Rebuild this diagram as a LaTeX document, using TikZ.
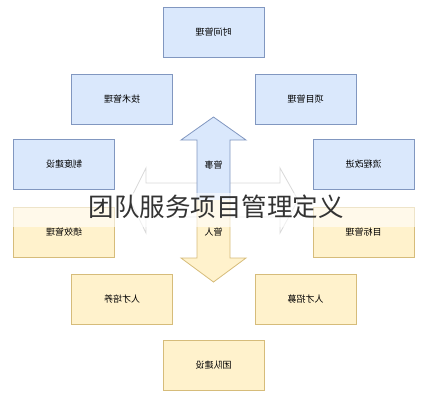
\documentclass[tikz,border=0pt]{standalone}
\usepackage{fontspec}
\setmainfont{Noto Sans CJK SC}
\usetikzlibrary{positioning}
\definecolor{blueline}{HTML}{8197C0}
\definecolor{bluefill}{HTML}{DAE8FC}
\definecolor{yellowline}{HTML}{D6BC7A}
\definecolor{yellowfill}{HTML}{FFF2CC}

\begin{document}
\begin{tikzpicture}[x=1pt, y=-1pt,
  bluenode/.style={rectangle, draw=blueline, fill=bluefill, thick, minimum width=101pt, minimum height=50pt, font=\fontsize{9}{11}\selectfont},
  yellownode/.style={rectangle, draw=yellowline, fill=yellowfill, thick, minimum width=101pt, minimum height=50pt, font=\fontsize{9}{11}\selectfont},
  arrowlabel/.style={font=\fontsize{9}{11}\selectfont}]
\useasboundingbox (0,0) rectangle (428,400);
% horizontal arrow behind
\draw[gray!30, fill=white, thick] (146,183) -- (146,168) -- (130,200) -- (146,233) -- (146,217) -- (280,217) -- (280,233) -- (298,200) -- (280,168) -- (280,183) -- cycle;
% up and down arrows
\draw[blueline, fill=bluefill, thick] (197,200) -- (197,140) -- (181,140) -- (213.5,117) -- (246,140) -- (230,140) -- (230,200);
\draw[yellowline, fill=yellowfill, thick] (197,200) -- (197,258) -- (181,258) -- (213.5,282) -- (246,258) -- (230,258) -- (230,200);
\node[arrowlabel] (guanshi) at (213.5,165) {\reflectbox{管事}};
\node[arrowlabel] (guanren) at (213.5,232) {\reflectbox{管人}};
% boxes
\node[bluenode] (time) at (213.5,32) {\reflectbox{时间管理}};
\node[bluenode] (tech) at (122,99) {\reflectbox{技术管理}};
\node[bluenode] (project) at (305.5,99) {\reflectbox{项目管理}};
\node[bluenode] (system) at (64,164.5) {\reflectbox{制度建设}};
\node[bluenode] (process) at (363.5,164.5) {\reflectbox{流程改进}};
\node[yellownode] (perf) at (64,232) {\reflectbox{绩效管理}};
\node[yellownode] (goal) at (363.5,232) {\reflectbox{目标管理}};
\node[yellownode] (train) at (122,299) {\reflectbox{人才培养}};
\node[yellownode] (recruit) at (305.5,299) {\reflectbox{人才招募}};
\node[yellownode] (team) at (213.5,365.5) {\reflectbox{团队建设}};
% title band
\fill[white, opacity=0.6] (0,193) rectangle (428,227);
\node[font=\fontsize{25.5}{30}\selectfont, text=black!80] (title) at (216,207) {团队服务项目管理定义};
\end{tikzpicture}
\end{document}
